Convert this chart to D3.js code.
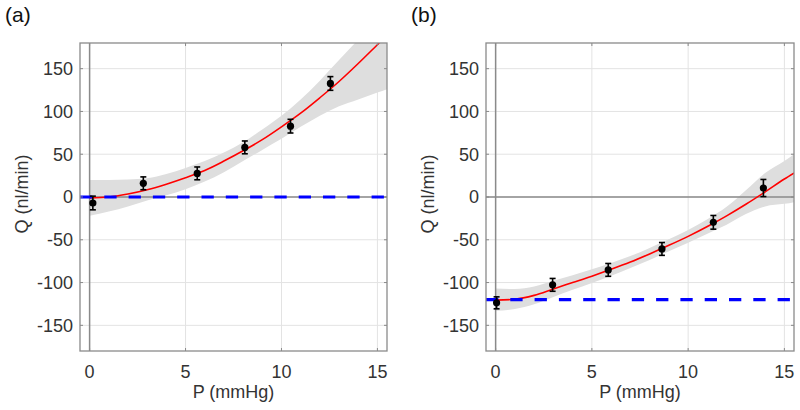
<!DOCTYPE html>
<html>
<head>
<meta charset="utf-8">
<script src="https://cdn.jsdelivr.net/npm/d3@7"></script>
<style>
  html, body { margin: 0; padding: 0; background: #ffffff; }
  svg { display: block; font-family: "Liberation Sans", Arial, Helvetica, sans-serif; }
</style>
</head>
<body>
<svg id="chart" width="800" height="410"></svg>
<script>
// ---------------- DATA ----------------
const panelLabels = ["(a)", "(b)"];
const xLabel = "P (mmHg)";
const yLabel = "Q (nl/min)";
const xTicks = [0, 5, 10, 15];
const yTicks = [-150, -100, -50, 0, 50, 100, 150];
const xDomain = [-0.5, 15.5];
const yDomain = [-180, 180];

// measured points (panel a)
const ptsA_P = [0.17, 2.8, 5.61, 8.09, 10.47, 12.55];
const ptsA_Q = [-7, 16, 27.6, 58, 82.8, 132.7];
const ptsA_err = [8, 7.5, 7.5, 7.5, 8, 8];
// measured points (panel b)
const ptsB_P = [0.05, 2.96, 5.85, 8.64, 11.31, 13.91];
const ptsB_Q = [-123.7, -102.7, -85.2, -60.7, -29.6, 10.5];
const ptsB_err = [7, 7.5, 7.5, 7.5, 8, 10];

// fitted curve and confidence band
const fitP = [0, 1, 2, 3, 4, 5, 6, 7, 8, 9, 10, 11, 12, 13, 14, 15, 15.5];
const fitA_Q = [-1, 0, 3.5, 8.5, 15, 22.5, 31, 42, 54, 67, 82, 98, 116, 135, 156, 178, 189];
const bandA_hi = [20, 20, 20.5, 22, 27, 34, 42, 52, 64, 79, 95, 114, 136, 160, 184, 208, 220];
const bandA_lo = [-22, -17, -11, -4, 2, 9, 18, 29, 42, 55, 68, 82, 95, 106, 114, 122, 126];

const fitB_Q = [-120.5, -119.5, -115, -107.5, -100, -92.5, -84.5, -76, -66.5, -56.5, -46, -34.5, -22, -8.5, 6, 21, 28];
const bandB_hi = [-107, -107.5, -104.5, -98, -91.5, -84.5, -77, -69, -59.5, -49.5, -38.5, -26, -11.5, 8, 28, 42, 50];
const bandB_lo = [-133, -131, -125.5, -117, -108.5, -100.5, -92, -83, -73.5, -63.5, -53.5, -43, -32.5, -20, -11, -8, -6];

// reference (dashed) levels
const refA = 0;
const refB = -120;

// ---------------- DRAW ----------------
const svg = d3.select("#chart");

const panels = [
  { id: "a", label: panelLabels[0], box: { l: 80, r: 387, t: 43, b: 351 }, labelX: 5,
    P: ptsA_P, Q: ptsA_Q, E: ptsA_err, fit: fitA_Q, hi: bandA_hi, lo: bandA_lo, ref: refA },
  { id: "b", label: panelLabels[1], box: { l: 486, r: 794, t: 43, b: 351 }, labelX: 411,
    P: ptsB_P, Q: ptsB_Q, E: ptsB_err, fit: fitB_Q, hi: bandB_hi, lo: bandB_lo, ref: refB }
];

const boxColor = "#8a8a8a";
const textColor = "#333333";
const fs = 18;

panels.forEach(p => {
  const { l, r, t, b } = p.box;
  const x = d3.scaleLinear().domain(xDomain).range([l, r]);
  const y = d3.scaleLinear().domain(yDomain).range([b, t]);
  const g = svg.append("g");

  g.append("clipPath").attr("id", "clip-" + p.id)
    .append("rect").attr("x", l).attr("y", t).attr("width", r - l).attr("height", b - t);

  // grid
  g.append("g").selectAll("line").data(xTicks).join("line")
    .attr("x1", d => x(d)).attr("x2", d => x(d)).attr("y1", t).attr("y2", b)
    .attr("stroke", "#e3e3e3").attr("stroke-width", 1);
  g.append("g").selectAll("line").data(yTicks).join("line")
    .attr("x1", l).attr("x2", r).attr("y1", d => y(d)).attr("y2", d => y(d))
    .attr("stroke", "#e3e3e3").attr("stroke-width", 1);

  const plot = g.append("g").attr("clip-path", "url(#clip-" + p.id + ")");

  // confidence band
  const area = d3.area()
    .x((d, i) => x(fitP[i]))
    .y0((d, i) => y(p.lo[i]))
    .y1((d, i) => y(p.hi[i]))
    .curve(d3.curveMonotoneX);
  plot.append("path").datum(fitP).attr("d", area).attr("fill", "#dedede");

  // zero lines
  plot.append("line").attr("x1", x(0)).attr("x2", x(0)).attr("y1", t).attr("y2", b)
    .attr("stroke", "#8a8a8a").attr("stroke-width", 1.5);
  plot.append("line").attr("x1", l).attr("x2", r).attr("y1", y(0)).attr("y2", y(0))
    .attr("stroke", "#8a8a8a").attr("stroke-width", 1.5);

  // fit curve
  const line = d3.line()
    .x((d, i) => x(fitP[i]))
    .y((d, i) => y(p.fit[i]))
    .curve(d3.curveMonotoneX);
  plot.append("path").datum(fitP).attr("d", line)
    .attr("fill", "none").attr("stroke", "#ff0000").attr("stroke-width", 1.6);

  // dashed reference line
  plot.append("line").attr("x1", l).attr("x2", r).attr("y1", y(p.ref)).attr("y2", y(p.ref))
    .attr("stroke", "#0000ff").attr("stroke-width", 3.2)
    .attr("stroke-dasharray", "12.3,12");

  // error bars and points
  const pts = p.P.map((v, i) => ({ P: v, Q: p.Q[i], E: p.E[i] }));
  const eb = plot.append("g").attr("stroke", "#000").attr("stroke-width", 1.6);
  pts.forEach(d => {
    eb.append("line").attr("x1", x(d.P)).attr("x2", x(d.P))
      .attr("y1", y(d.Q - d.E)).attr("y2", y(d.Q + d.E));
    eb.append("line").attr("x1", x(d.P) - 3).attr("x2", x(d.P) + 3)
      .attr("y1", y(d.Q - d.E)).attr("y2", y(d.Q - d.E));
    eb.append("line").attr("x1", x(d.P) - 3).attr("x2", x(d.P) + 3)
      .attr("y1", y(d.Q + d.E)).attr("y2", y(d.Q + d.E));
  });
  plot.append("g").selectAll("circle").data(pts).join("circle")
    .attr("cx", d => x(d.P)).attr("cy", d => y(d.Q)).attr("r", 3.6).attr("fill", "#000");

  // axes (ticks inside, box)
  const tickLen = 3;
  const ax = g.append("g").attr("stroke", boxColor).attr("stroke-width", 1);
  xTicks.forEach(v => {
    ax.append("line").attr("x1", x(v)).attr("x2", x(v)).attr("y1", b).attr("y2", b - tickLen);
    ax.append("line").attr("x1", x(v)).attr("x2", x(v)).attr("y1", t).attr("y2", t + tickLen);
  });
  yTicks.forEach(v => {
    ax.append("line").attr("x1", l).attr("x2", l + tickLen).attr("y1", y(v)).attr("y2", y(v));
    ax.append("line").attr("x1", r).attr("x2", r - tickLen).attr("y1", y(v)).attr("y2", y(v));
  });
  g.append("rect").attr("x", l).attr("y", t).attr("width", r - l).attr("height", b - t)
    .attr("fill", "none").attr("stroke", boxColor).attr("stroke-width", 1.3);

  // tick labels
  g.append("g").selectAll("text").data(xTicks).join("text")
    .attr("x", d => x(d)).attr("y", 377.5)
    .attr("text-anchor", "middle").attr("font-size", fs).attr("fill", textColor)
    .text(d => d);
  g.append("g").selectAll("text").data(yTicks).join("text")
    .attr("x", l - 7).attr("y", d => y(d) + 6.4)
    .attr("text-anchor", "end").attr("font-size", fs).attr("fill", textColor)
    .text(d => d);

  // axis labels
  g.append("text").attr("x", (l + r) / 2).attr("y", 398)
    .attr("text-anchor", "middle").attr("font-size", fs).attr("fill", textColor)
    .text(xLabel);
  g.append("text")
    .attr("transform", `translate(${l - 52},194) rotate(-90)`)
    .attr("text-anchor", "middle").attr("font-size", fs).attr("fill", textColor)
    .text(yLabel);

  // panel label
  g.append("text").attr("x", p.labelX).attr("y", 22)
    .attr("font-size", 21).attr("fill", "#111")
    .text(p.label);
});
</script>
</body>
</html>
